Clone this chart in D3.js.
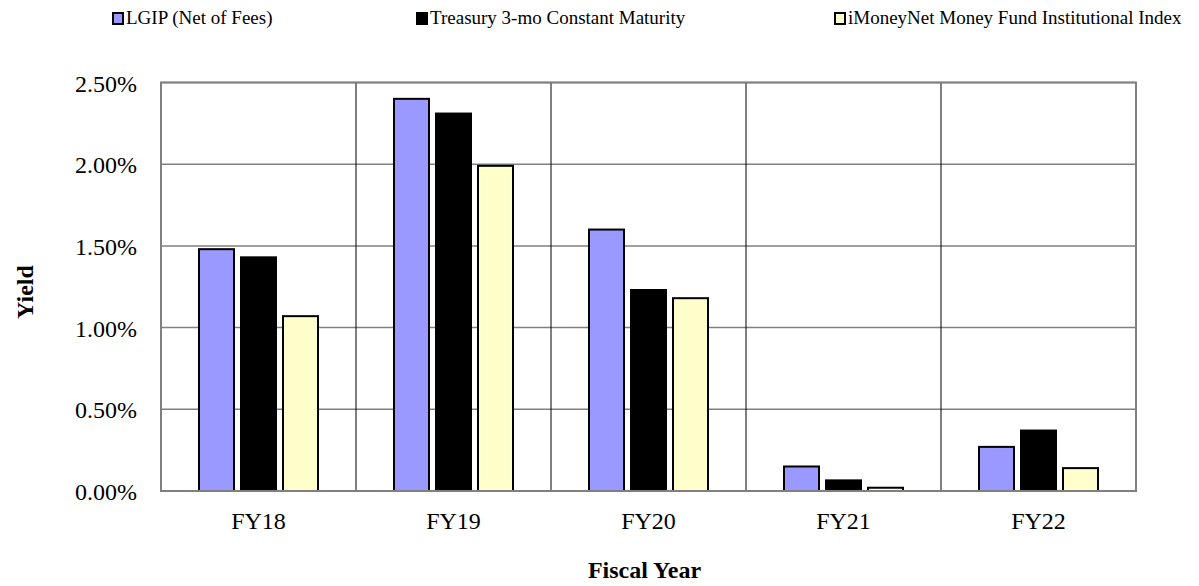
<!DOCTYPE html>
<html>
<head>
<meta charset="utf-8">
<script src="https://cdn.jsdelivr.net/npm/d3@7"></script>
<style>
  html, body { margin: 0; padding: 0; background: #fff; }
  svg { display: block; font-family: "Liberation Serif", "Times New Roman", serif; }
</style>
</head>
<body>
<svg id="chart" width="1199" height="586"></svg>
<script>
const categories = ["FY18", "FY19", "FY20", "FY21", "FY22"];
const seriesNames = [
  "LGIP (Net of Fees)",
  "Treasury 3-mo Constant Maturity",
  "iMoneyNet Money Fund Institutional Index",
];
const lgip = [1.48, 2.40, 1.60, 0.15, 0.27];
const treasury = [1.43, 2.31, 1.23, 0.065, 0.37];
const imoney = [1.07, 1.99, 1.18, 0.02, 0.14];
const yTicks = [0, 0.5, 1.0, 1.5, 2.0, 2.5];

const seriesValues = [lgip, treasury, imoney];
const colors = ["#9999ff", "#000000", "#ffffcc"];

const svg = d3.select("#chart");
const plot = { left: 161, right: 1136, top: 82.5, bottom: 491 };

const x0 = d3.scaleBand().domain(categories).range([plot.left, plot.right]);
const x1 = d3.scaleBand().domain(d3.range(seriesNames.length))
  .range([38, 157]).paddingInner(7 / 42).paddingOuter(0);
const y = d3.scaleLinear().domain([0, 2.5]).range([plot.bottom, plot.top]);

// horizontal grid
svg.append("g")
  .selectAll("line")
  .data(yTicks)
  .join("line")
  .attr("x1", plot.left).attr("x2", plot.right)
  .attr("y1", d => y(d)).attr("y2", d => y(d))
  .attr("stroke", "#808080").attr("stroke-width", 1.5);

// vertical separators between categories
svg.append("g")
  .selectAll("line")
  .data(categories.slice(1))
  .join("line")
  .attr("x1", d => x0(d)).attr("x2", d => x0(d))
  .attr("y1", plot.top).attr("y2", plot.bottom)
  .attr("stroke", "#000").attr("stroke-width", 1);

// bars
const groups = svg.append("g")
  .selectAll("g")
  .data(categories)
  .join("g")
  .attr("transform", d => `translate(${x0(d)},0)`);

groups.selectAll("rect")
  .data((d, i) => seriesValues.map((vals, s) => ({ s, v: vals[i] })))
  .join("rect")
  .attr("x", d => x1(d.s))
  .attr("width", x1.bandwidth())
  .attr("y", d => y(d.v))
  .attr("height", d => y(0) - y(d.v))
  .attr("fill", d => colors[d.s])
  .attr("stroke", "#000")
  .attr("stroke-width", 2);

// plot border
svg.append("rect")
  .attr("x", plot.left).attr("y", plot.top)
  .attr("width", plot.right - plot.left).attr("height", plot.bottom - plot.top)
  .attr("fill", "none").attr("stroke", "#808080").attr("stroke-width", 2);

// y axis labels
const yAxis = d3.axisLeft(y).tickValues(yTicks)
  .tickFormat(d => d.toFixed(2) + "%").tickSize(0).tickPadding(24);
svg.append("g")
  .attr("transform", `translate(${plot.left},0)`)
  .call(yAxis)
  .call(g => g.select(".domain").remove())
  .call(g => g.selectAll("text")
    .attr("font-family", "Liberation Serif, Times New Roman, serif")
    .attr("font-size", 24).attr("fill", "#000").attr("dy", "0.36em"));

// x axis labels
const xAxis = d3.axisBottom(x0).tickSize(0).tickPadding(21);
svg.append("g")
  .attr("transform", `translate(0,${plot.bottom})`)
  .call(xAxis)
  .call(g => g.select(".domain").remove())
  .call(g => g.selectAll("text")
    .attr("font-family", "Liberation Serif, Times New Roman, serif")
    .attr("font-size", 24).attr("fill", "#000"));

// axis titles
svg.append("text")
  .attr("x", (plot.left + plot.right) / 2 - 4).attr("y", 578)
  .attr("text-anchor", "middle")
  .attr("font-size", 24).attr("font-weight", "bold")
  .text("Fiscal Year");

svg.append("text")
  .attr("transform", "translate(33,292) rotate(-90)")
  .attr("text-anchor", "middle")
  .attr("font-size", 24).attr("font-weight", "bold")
  .text("Yield");

// legend
const legendX = [112, 416, 834];
const legend = svg.append("g")
  .selectAll("g")
  .data(seriesNames)
  .join("g")
  .attr("transform", (d, i) => `translate(${legendX[i]},12)`);

legend.append("rect")
  .attr("x", 1).attr("y", 1)
  .attr("width", 10).attr("height", 11)
  .attr("fill", (d, i) => colors[i])
  .attr("stroke", "#000").attr("stroke-width", 2);

legend.append("text")
  .attr("x", 14).attr("y", 12)
  .attr("font-size", 19)
  .text(d => d);
</script>
</body>
</html>
